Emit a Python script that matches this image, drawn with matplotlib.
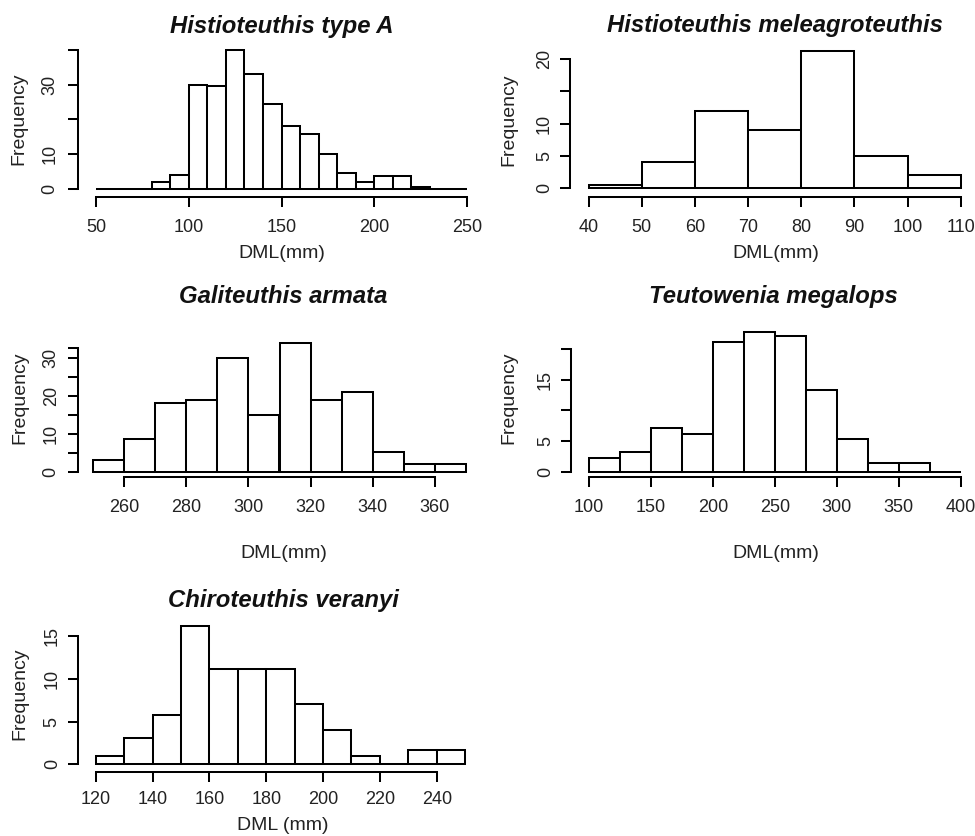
import matplotlib
matplotlib.use("Agg")
import matplotlib.pyplot as plt

plt.rcParams['font.family'] = ['Liberation Sans', 'DejaVu Sans']

# ---------------- data ----------------
titles = ["Histioteuthis type A", "Histioteuthis meleagroteuthis",
          "Galiteuthis armata", "Teutowenia megalops", "Chiroteuthis veranyi"]
xlabels = ["DML(mm)", "DML(mm)", "DML(mm)", "DML(mm)", "DML (mm)"]

p1_left = [50, 60, 70, 80, 90, 100, 110, 120, 130, 140, 150, 160, 170, 180, 190, 200, 210, 220, 230, 240]
p1_freq = [0, 0, 0, 2, 4, 30, 29.5, 40, 33, 24.5, 18.2, 15.8, 10, 4.5, 1.9, 3.8, 3.8, 0.6, 0, 0]
p1_width = 10

p2_left = [40, 50, 60, 70, 80, 90, 100]
p2_freq = [0.5, 4.0, 12.0, 9.0, 21.3, 5.0, 2.0]
p2_width = 10

p3_left = [250, 260, 270, 280, 290, 300, 310, 320, 330, 340, 350, 360]
p3_freq = [3.2, 8.6, 18.1, 19.0, 30.0, 15.0, 34.0, 19.0, 21.0, 5.2, 2.0, 2.0]
p3_width = 10

p4_left = [100, 125, 150, 175, 200, 225, 250, 275, 300, 325, 350, 375]
p4_freq = [2.2, 3.2, 7.2, 6.2, 21.1, 22.8, 22.2, 13.3, 5.4, 1.4, 1.4, 0]
p4_width = 25

p5_left = [120, 130, 140, 150, 160, 170, 180, 190, 200, 210, 220, 230, 240]
p5_freq = [1.0, 3.1, 5.8, 16.2, 11.2, 11.2, 11.2, 7.1, 4.0, 0.95, 0, 1.7, 1.7]
p5_width = 10

p1_xticks = [50, 100, 150, 200, 250]
p1_yticks = [0, 10, 20, 30, 40]
p1_ylabels = ['0', '10', '', '30', '']

p2_xticks = [40, 50, 60, 70, 80, 90, 100, 110]
p2_yticks = [0, 5, 10, 15, 20]
p2_ylabels = ['0', '5', '10', '', '20']

p3_xticks = [260, 280, 300, 320, 340, 360]
p3_yticks = [0, 5, 10, 15, 20, 25, 30, 32.5]
p3_ylabels = ['0', '', '10', '', '20', '', '30', '']

p4_xticks = [100, 150, 200, 250, 300, 350, 400]
p4_yticks = [0, 5, 10, 15, 20]
p4_ylabels = ['0', '5', '', '15', '']

p5_xticks = [120, 140, 160, 180, 200, 220, 240]
p5_yticks = [0, 5, 10, 15]
p5_ylabels = ['0', '5', '10', '15']

# ---------------- layout ----------------
W, H, DPI = 975, 836, 100
fig = plt.figure(figsize=(W / DPI, H / DPI), dpi=DPI)
fig.patch.set_facecolor('white')

LW = 1.45
TICK_FS = 13
LAB_FS = 14
TITLE_FS = 17.2


def px2pt(p):
    return p * 72.0 / DPI


def panel(xpix, ypix, xlim, ylim, spine_x, spine_y, left, freq, width,
          xticks, yticks, ylabels, xpad, ypad):
    ax = fig.add_axes([xpix[0] / W, 1 - ypix[0] / H,
                       (xpix[1] - xpix[0]) / W, (ypix[0] - ypix[1]) / H])
    ax.set_xlim(xlim)
    ax.set_ylim(ylim)
    ax.patch.set_visible(False)
    ax.bar(left, freq, width=width, align='edge', facecolor='white',
           edgecolor='black', linewidth=LW, clip_on=False)
    for s in ('top', 'right'):
        ax.spines[s].set_visible(False)
    ax.spines['left'].set_position(('outward', px2pt(xpix[0] - spine_x)))
    ax.spines['bottom'].set_position(('outward', px2pt(spine_y - ypix[0])))
    ax.spines['left'].set_linewidth(LW)
    ax.spines['bottom'].set_linewidth(LW)
    ax.spines['left'].set_bounds(yticks[0], yticks[-1])
    ax.spines['bottom'].set_bounds(xticks[0], xticks[-1])
    ax.set_xticks(xticks)
    ax.set_xticklabels([str(t) for t in xticks])
    ax.set_yticks(yticks)
    ax.set_yticklabels(ylabels, rotation=90, va='center')
    ax.tick_params(axis='both', length=px2pt(10), width=LW, labelsize=TICK_FS,
                   color='black', labelcolor='#222222')
    ax.tick_params(axis='x', pad=xpad)
    ax.tick_params(axis='y', pad=ypad)
    return ax


def ftext(x, y, s, **kw):
    fig.text(x / W, 1 - y / H, s, **kw)


panel((96, 467), (189, 50), (50, 250), (0, 40), 78, 196.7,
      p1_left, p1_freq, p1_width, p1_xticks, p1_yticks, p1_ylabels, 9, 7)
panel((588.7, 960.7), (188.3, 59), (40, 110), (0, 20), 570, 196.7,
      p2_left, p2_freq, p2_width, p2_xticks, p2_yticks, p2_ylabels, 9, 5)
panel((93, 466), (471.7, 348.3), (250, 370), (0, 30), 78, 476.7,
      p3_left, p3_freq, p3_width, p3_xticks, p3_yticks, p3_ylabels, 9, 6)
panel((589, 960.7), (471.7, 349), (100, 400), (0, 20), 571, 476.7,
      p4_left, p4_freq, p4_width, p4_xticks, p4_yticks, p4_ylabels, 9, 5)
panel((95.7, 436.7), (764.3, 636), (120, 240), (0, 15), 77.7, 771.7,
      p5_left, p5_freq, p5_width, p5_xticks, p5_yticks, p5_ylabels, 7, 5)

title_pos = [(281.7, 33.3), (774.7, 32.3), (283.3, 303.3), (773, 303.3), (283.3, 607.3)]
xlab_pos = [(281.5, 254), (776, 254), (284, 553), (776, 553), (283, 826)]
ylab_pos = [(19, 119), (509, 120), (20, 398), (509, 398), (20, 694)]

for t, (x, y) in zip(titles, title_pos):
    ftext(x, y, t, ha='center', va='baseline', fontsize=TITLE_FS,
          fontweight='bold', fontstyle='italic', color='#111111')
for t, (x, y) in zip(xlabels, xlab_pos):
    ftext(x, y, t, ha='center', va='center', fontsize=LAB_FS, color='#222222')
for (x, y) in ylab_pos:
    ftext(x, y, "Frequency", ha='center', va='center', rotation=90,
          fontsize=LAB_FS, color='#222222')

fig.savefig("out.png", dpi=DPI, facecolor='white')
